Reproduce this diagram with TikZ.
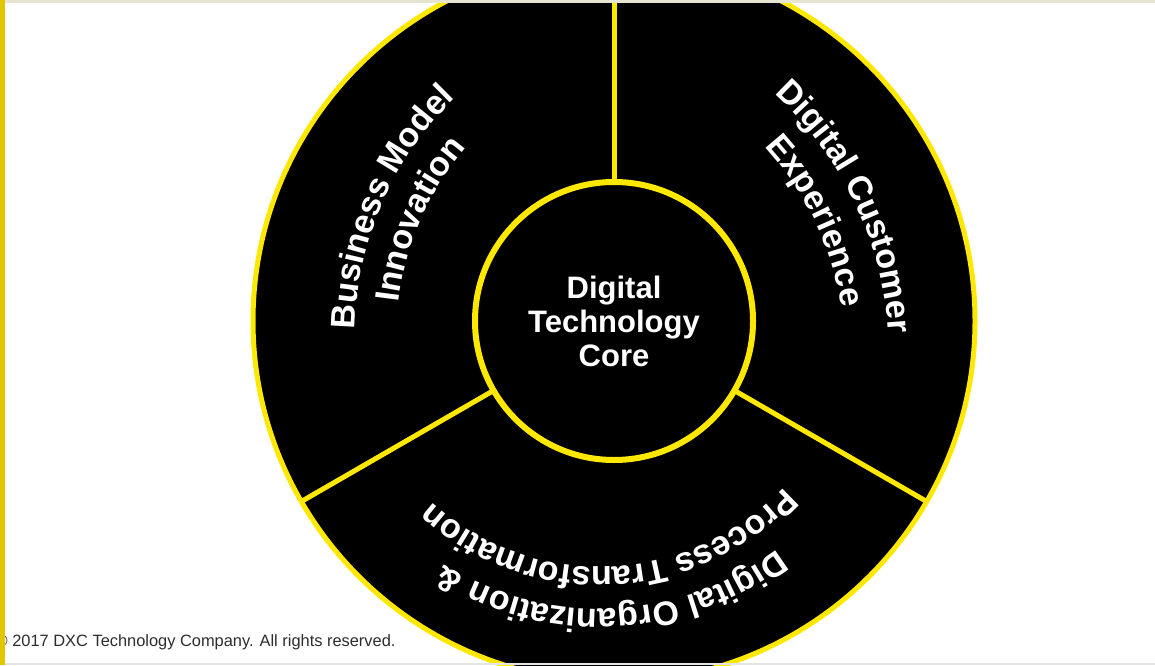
\documentclass[tikz,border=0pt]{standalone}
\usepackage{fontspec}
\setmainfont{Liberation Sans}
\newfontfamily\labfont{Liberation Sans}
\usetikzlibrary{decorations.text}
\definecolor{dxcyellow}{RGB}{255,232,0}
\definecolor{stripgold}{RGB}{226,198,0}
\definecolor{topline}{RGB}{232,228,210}
\definecolor{botline}{RGB}{228,228,228}
\definecolor{footgray}{RGB}{45,45,45}
\newcommand{\arcfont}{\labfont\bfseries\fontsize{34}{38}\selectfont}
\tikzset{
  ring/.style={circle, draw=dxcyellow, fill=black, inner sep=0pt, outer sep=0pt},
  divider/.style={draw=dxcyellow, line width=5pt},
  arclabel/.style={decorate, decoration={text along path, text align=center, text color=white, text={#1}}}
}
\begin{document}
\begin{tikzpicture}[x=1pt,y=1pt]
\useasboundingbox (0,0) rectangle (1155,665);
\fill[white] (0,0) rectangle (1155,665);
\coordinate (C) at (614,344);
\coordinate (LC) at (685,330);
\coordinate (RC) at (539,312);
\coordinate (BC) at (600,350);
\begin{scope}
  \clip (0,0) rectangle (1155,662);
  \node[ring, line width=5pt, minimum size=722pt] (outer) at (C) {};
  \node[ring, line width=6pt, minimum size=278pt, align=center, text=white,
        font=\labfont\bfseries\fontsize{31}{34}\selectfont] (core) at (C) {Digital\\Technology\\Core};
  \draw[divider] (core.90) -- (outer.90);
  \draw[divider] (core.210) -- (outer.210);
  \draw[divider] (core.330) -- (outer.330);
  % left sector
  \path[arclabel={|\arcfont|Business Model}] ([shift={(196.5:330)}]LC) arc[start angle=196.5, end angle=116.5, radius=330];
  \path[arclabel={|\arcfont|Innovation}] ([shift={(196.5:288)}]LC) arc[start angle=196.5, end angle=116.5, radius=288];
  % right sector
  \path[arclabel={|\arcfont|Digital Customer}] ([shift={(65.5:350)}]RC) arc[start angle=65.5, end angle=-14.5, radius=350];
  \path[arclabel={|\arcfont|Experience}] ([shift={(65.5:306)}]RC) arc[start angle=65.5, end angle=-14.5, radius=306];
  % bottom sector
  \path[arclabel={|\arcfont|Digital Organization {\&}}] ([shift={(-27.5:294)}]BC) arc[start angle=-27.5, end angle=-147.5, radius=294];
  \path[arclabel={|\arcfont|Process Transformation}] ([shift={(-27.5:252)}]BC) arc[start angle=-27.5, end angle=-147.5, radius=252];
\end{scope}
\node[anchor=base west, inner sep=0pt, text=footgray, font=\labfont\fontsize{16.4}{19}\selectfont] (copy) at (-4.5,19) {© 2017 DXC Technology Company. All rights reserved.};
\fill[topline] (0,662) rectangle (1155,665);
\fill[botline] (0,0) rectangle (1155,2);
\fill[stripgold] (0,0) rectangle (5,665);
\end{tikzpicture}
\end{document}
